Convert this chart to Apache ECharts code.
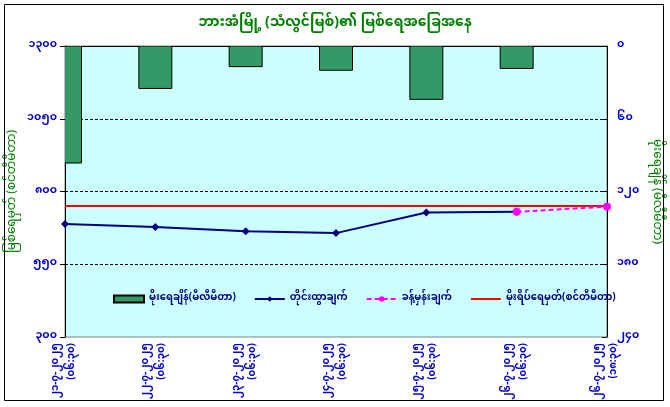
<!DOCTYPE html>
<html>
<head>
<meta charset="utf-8">
<script src="https://cdn.jsdelivr.net/npm/echarts@6/dist/echarts.min.js"></script>
<style>
html,body{margin:0;padding:0;background:#fff;}
#c{width:670px;height:407px;}
</style>
</head>
<body>
<div id="c"></div>
<script>
const dates = ['၂၁-၇-၂၀၂၅','၂၂-၇-၂၀၂၅','၂၃-၇-၂၀၂၅','၂၄-၇-၂၀၂၅','၂၅-၇-၂၀၂၅','၂၆-၇-၂၀၂၅','၂၆-၇-၂၀၂၅'];
const times = ['(၀၆:၃၀)','(၀၆:၃၀)','(၀၆:၃၀)','(၀၆:၃၀)','(၀၆:၃၀)','(၀၆:၃၀)','(၁၈:၃၀)'];
const rainfall = [96.5, 35, 17, 20, 44, 18.5, null];
const observed = [688, 678, 663, 657, 728, 730, null];
const forecast = [null, null, null, null, null, 730, 748];
const danger = [750, 750, 750, 750, 750, 750, 750];
const names = ['မိုးရေချိန်(မီလီမီတာ)','တိုင်းထွာချက်','ခန့်မှန်းချက်','မိုးရိပ်ရေမှတ်(စင်တီမီတာ)'];

const categories = dates.map((d,i)=>d+'\n'+times[i]);
const mm = s => String(s).replace(/[0-9]/g, d => String.fromCharCode(0x1040 + Number(d)));
const FONT = "'Noto Sans Myanmar','Padauk','Myanmar Text','Noto Sans',sans-serif";
const BAR_W = 33;

const chart = echarts.init(document.getElementById('c'));
chart.setOption({
  backgroundColor: '#ffffff',
  textStyle: {fontFamily: FONT},
  animation: false,
  title: {
    text: 'ဘားအံမြို့ (သံလွင်မြစ်)၏ မြစ်ရေအခြေအနေ',
    left: 'center', top: 13,
    textStyle: {color: '#008000', fontSize: 14, fontWeight: 'bold', fontFamily: FONT}
  },
  graphic: [{
    type: 'rect', shape: {x: 4.5, y: 4.5, width: 659, height: 396},
    style: {fill: 'none', stroke: '#000', lineWidth: 1}, z: 100
  }],
  legend: {
    left: 108, top: 289,
    itemWidth: 30, itemHeight: 7, itemGap: 18,
    textStyle: {color: '#000080', fontSize: 10, fontWeight: 'bold', fontFamily: FONT},
    data: [
      {name: names[0], icon: 'rect'},
      {name: names[1]},
      {name: names[2]},
      {name: names[3], itemStyle: {opacity: 0}}
    ]
  },
  grid: {left: 65, right: 63, top: 46, bottom: 70, show: true, backgroundColor: '#CCFFFF', borderColor: '#808080', borderWidth: 1},
  xAxis: {
    type: 'category', data: categories, boundaryGap: false,
    axisLine: {lineStyle: {color: '#000', width: 1}},
    axisTick: {show: true, alignWithLabel: true, lineStyle: {color: '#000'}},
    axisLabel: {rotate: 90, color: '#0000CC', fontSize: 10, fontWeight: 'bold', lineHeight: 16, fontFamily: FONT, interval: 0, margin: 6}
  },
  yAxis: [{
    type: 'value', min: 300, max: 1300, interval: 250, position: 'left',
    name: 'မြစ်ရေမှတ် (စင်တီမီတာ)', nameLocation: 'middle', nameGap: 45, nameMoveOverlap: false,
    nameTextStyle: {color: '#008000', fontSize: 12, fontFamily: FONT},
    axisLine: {show: true, lineStyle: {color: '#000'}},
    axisTick: {show: true, lineStyle: {color: '#000'}},
    axisLabel: {color: '#0000CC', fontSize: 11, fontWeight: 'bold', formatter: v => mm(v), fontFamily: FONT, margin: 8},
    splitLine: {show: true, showMinLine: false, showMaxLine: false, lineStyle: {color: '#000', type: [3, 2], width: 1}}
  }, {
    type: 'value', min: 0, max: 240, interval: 60, position: 'right', inverse: true,
    name: 'မိုးရေချိန် (မီလီမီတာ)', nameLocation: 'middle', nameGap: 42, nameRotate: -90, nameMoveOverlap: false,
    nameTextStyle: {color: '#008000', fontSize: 12, fontFamily: FONT},
    axisLine: {show: true, lineStyle: {color: '#000'}},
    axisTick: {show: true, inside: true, lineStyle: {color: '#000'}},
    axisLabel: {color: '#0000CC', fontSize: 11, fontWeight: 'bold', formatter: v => mm(v), fontFamily: FONT, margin: 10},
    splitLine: {show: false}
  }],
  series: [{
    name: names[0], type: 'custom', yAxisIndex: 1, clip: true,
    data: rainfall.map((v, i) => [i, v]),
    encode: {x: 0, y: 1},
    itemStyle: {color: '#339966', borderColor: '#000', borderWidth: 1},
    renderItem: (params, api) => {
      const v = api.value(1);
      if (v == null || isNaN(v)) return null;
      const p0 = api.coord([api.value(0), 0]);
      const p1 = api.coord([api.value(0), v]);
      return {
        type: 'rect',
        shape: {x: p0[0] - BAR_W / 2, y: p0[1], width: BAR_W, height: p1[1] - p0[1]},
        style: {fill: '#339966', stroke: '#000', lineWidth: 1}
      };
    },
    z: 2
  }, {
    name: names[1], type: 'line', yAxisIndex: 0, data: observed,
    symbol: 'diamond', symbolSize: 8,
    lineStyle: {color: '#000080', width: 2}, itemStyle: {color: '#000080'}, z: 4
  }, {
    name: names[2], type: 'line', yAxisIndex: 0, data: forecast,
    symbol: 'circle', symbolSize: 8,
    lineStyle: {color: '#FF00FF', width: 2, type: [5, 3]}, itemStyle: {color: '#FF00FF'}, z: 5
  }, {
    name: names[3], type: 'line', yAxisIndex: 0, data: danger,
    symbol: 'none', showSymbol: false,
    lineStyle: {color: '#FF0000', width: 2}, itemStyle: {color: '#FF0000'}, z: 3
  }]
});
</script>
</body>
</html>
